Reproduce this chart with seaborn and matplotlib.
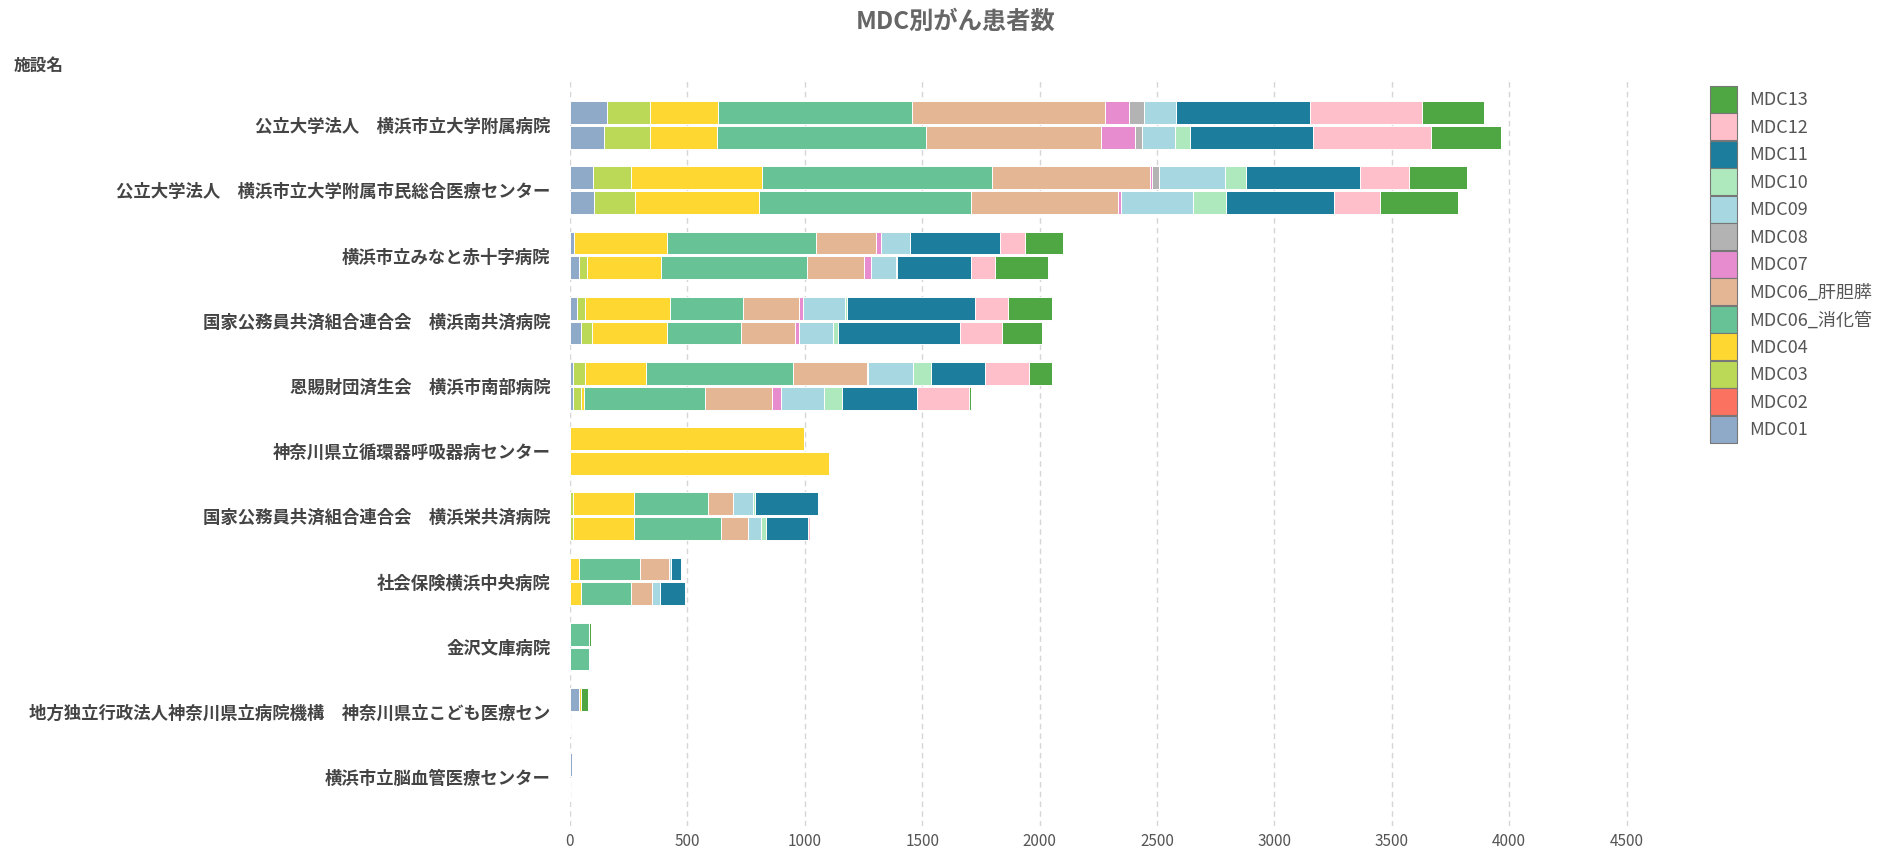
import matplotlib
matplotlib.use("Agg")
import matplotlib.pyplot as plt
from matplotlib.patches import Patch
import pandas as pd
import seaborn as sns

# facility names (y categories)
hospitals = [
    "公立大学法人　横浜市立大学附属病院",
    "公立大学法人　横浜市立大学附属市民総合医療センター",
    "横浜市立みなと赤十字病院",
    "国家公務員共済組合連合会　横浜南共済病院",
    "恩賜財団済生会　横浜市南部病院",
    "神奈川県立循環器呼吸器病センター",
    "国家公務員共済組合連合会　横浜栄共済病院",
    "社会保険横浜中央病院",
    "金沢文庫病院",
    "地方独立行政法人神奈川県立病院機構　神奈川県立こども医療セン",
    "横浜市立脳血管医療センター",
]
periods = ["前年度", "当年度"]  # two bars per facility (top, bottom)

mdc_labels = ["MDC01", "MDC02", "MDC03", "MDC04", "MDC06_消化管", "MDC06_肝胆膵",
              "MDC07", "MDC08", "MDC09", "MDC10", "MDC11", "MDC12", "MDC13"]
mdc_colors = ["#8fa9c9", "#fb7261", "#bbd957", "#fed830", "#67c296", "#e4b694",
              "#e68ccf", "#b3b3b3", "#a7d8e2", "#ade9bd", "#1c7d9c", "#febfca", "#4ea742"]

# counts per facility, pairs = (top bar, bottom bar)
mdc01 = [158, 146, 97, 101, 19, 40, 32, 46, 11, 11, 0, 0, 0, 0, 0, 0, 0, 0, 37, 0, 8, 0]
mdc02 = [0] * 22
mdc03 = [184, 196, 165, 178, 0, 32, 34, 49, 55, 35, 0, 0, 11, 11, 0, 0, 0, 0, 0, 0, 0, 0]
mdc04 = [289, 283, 557, 525, 393, 317, 358, 317, 259, 15, 998, 1104, 262, 262, 40, 49, 0, 0, 10, 0, 0, 0]
mdc06_gi = [824, 891, 980, 902, 635, 620, 313, 317, 623, 515, 0, 0, 317, 369, 260, 213, 81, 80, 0, 0, 0, 0]
mdc06_hbp = [825, 747, 671, 629, 256, 245, 240, 228, 316, 283, 0, 0, 106, 116, 122, 89, 0, 0, 0, 0, 0, 0]
mdc07 = [102, 144, 11, 11, 23, 28, 15, 18, 0, 40, 0, 0, 0, 0, 0, 0, 0, 0, 0, 0, 0, 0]
mdc08 = [63, 29, 27, 0, 0, 0, 0, 0, 7, 0, 0, 0, 0, 0, 0, 0, 0, 0, 0, 0, 0, 0]
mdc09 = [137, 140, 283, 306, 123, 105, 179, 146, 190, 182, 0, 0, 84, 55, 7, 33, 0, 0, 0, 0, 0, 0]
mdc10 = [0, 65, 89, 144, 0, 5, 10, 21, 78, 78, 0, 0, 10, 21, 0, 0, 0, 0, 0, 0, 0, 0]
mdc11 = [571, 524, 485, 457, 384, 318, 542, 518, 228, 319, 0, 0, 267, 180, 44, 106, 0, 0, 0, 0, 0, 0]
mdc12 = [474, 501, 208, 196, 107, 100, 144, 179, 190, 220, 0, 0, 0, 10, 0, 0, 0, 0, 0, 0, 0, 0]
mdc13 = [267, 300, 249, 334, 161, 228, 188, 173, 98, 12, 0, 0, 0, 0, 0, 0, 10, 0, 28, 0, 0, 0]

series = [mdc01, mdc02, mdc03, mdc04, mdc06_gi, mdc06_hbp, mdc07, mdc08,
          mdc09, mdc10, mdc11, mdc12, mdc13]

rows = []
for i, h in enumerate(hospitals):
    for j, p in enumerate(periods):
        for m, vals in zip(mdc_labels, series):
            rows.append({"施設名": h, "期間": p, "MDC": m, "患者数": vals[2 * i + j]})
df = pd.DataFrame(rows)
df["MDC"] = pd.Categorical(df["MDC"], categories=mdc_labels, ordered=True)
df = df.sort_values(["施設名", "期間", "MDC"])
df["累計"] = df.groupby(["施設名", "期間"], observed=True)["患者数"].cumsum()

sns.set_theme(style="white")
plt.rcParams["font.family"] = ["Noto Sans CJK JP", "DejaVu Sans"]

fig = plt.figure(figsize=(18.81, 8.48), dpi=100)
ax = fig.add_axes([0.303, 0.026, 0.5867, 0.882])

# stacked look: draw cumulative totals from the last MDC down to the first
for m, c in zip(mdc_labels[::-1], mdc_colors[::-1]):
    sub = df[df["MDC"] == m]
    sns.barplot(data=sub, x="累計", y="施設名", hue="期間",
                order=hospitals, hue_order=periods,
                palette=[c, c], dodge=True, width=0.76, gap=0.08,
                saturation=1, edgecolor="white", linewidth=0.7,
                legend=False, errorbar=None, ax=ax)

ax.set_xlim(0, 4700)
ax.set_ylim(10.75, -0.72)
ax.set_xticks(range(0, 5000, 500))
ax.set_xlabel(None)
ax.set_ylabel(None)
ax.set_axisbelow(True)
ax.xaxis.grid(True, linestyle=(0, (4, 3)), color="#d6d6d6", linewidth=1)
ax.yaxis.grid(False)
for s in ax.spines.values():
    s.set_visible(False)
ax.tick_params(axis="x", length=0, pad=5, labelsize=11, labelcolor="#555555")
ax.tick_params(axis="y", length=0, pad=14, labelsize=12.5, labelcolor="#444444")
for t in ax.get_yticklabels():
    t.set_fontweight("bold")

fig.text(0.508, 0.974, "MDC別がん患者数", ha="center", va="center",
         fontsize=17.5, fontweight="bold", color="#666666")
fig.text(14 / 1881, 1 - 66 / 848, "施設名", ha="left", va="center",
         fontsize=12, fontweight="bold", color="#444444")

handles = [Patch(facecolor=c, edgecolor="#777777", linewidth=0.8, label=m)
           for m, c in zip(mdc_labels[::-1], mdc_colors[::-1])]
leg = fig.legend(handles=handles, loc="upper left",
                 bbox_to_anchor=(1710 / 1881, 1 - 86 / 848),
                 frameon=False, fontsize=13, handlelength=1.49, handleheight=1.92,
                 labelspacing=0.03, handletextpad=0.7, borderpad=0, borderaxespad=0)
for t in leg.get_texts():
    t.set_color("#555555")

fig.savefig("out.png", dpi=100)
